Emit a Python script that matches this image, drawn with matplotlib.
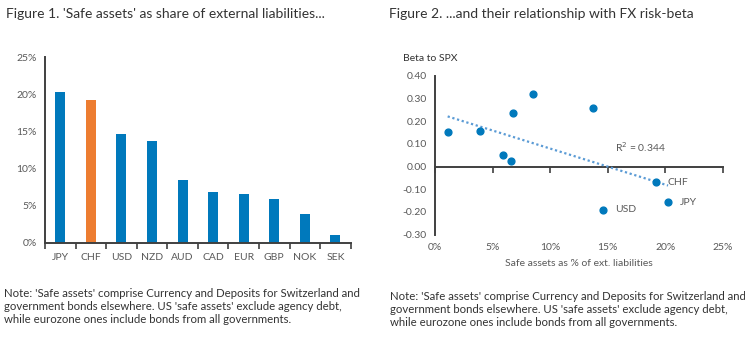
import matplotlib.pyplot as plt
import numpy as np

plt.rcParams['font.family'] = ['Lato', 'DejaVu Sans']

# Figure 1 data: safe assets as % of external liabilities
currencies = ['JPY', 'CHF', 'USD', 'NZD', 'AUD', 'CAD', 'EUR', 'GBP', 'NOK', 'SEK']
safe_share = [20.25, 19.2, 14.6, 13.7, 8.5, 6.8, 6.6, 5.9, 3.9, 1.1]

# Figure 2 data: beta to SPX for the same currencies
beta_spx = [-0.158, -0.069, -0.191, 0.260, 0.320, 0.236, 0.026, 0.050, 0.158, 0.153]
labelled = ['JPY', 'CHF', 'USD']
r2_text = 'R$^2$ = 0.344'

blue = '#0079BC'
orange = '#ED7D31'
trend_blue = '#5B9BD5'
axis_col = '#404040'
tick_col = '#595959'
title_col = '#333333'

fig = plt.figure(figsize=(7.45, 3.46), dpi=100)

# ---- Figure 1: bars
ax1 = fig.add_axes([0.0604, 0.2977, 0.4103, 0.5373])
colors = [orange if c == 'CHF' else blue for c in currencies]
x = np.arange(len(currencies))
ax1.bar(x, safe_share, width=0.33, color=colors)
ax1.set_xlim(-0.5, len(currencies) - 0.5)
ax1.set_ylim(0, 25)
ax1.set_yticks(np.arange(0, 26, 5))
ax1.set_yticklabels([f'{v}%' for v in range(0, 26, 5)])
ax1.set_xticks(x)
ax1.set_xticklabels(currencies)
ax1.set_xticks(np.arange(-0.5, len(currencies), 1), minor=True)
ax1.tick_params(axis='x', which='major', length=0, pad=7, labelsize=7.5, labelcolor=tick_col)
ax1.tick_params(axis='x', which='minor', length=4, width=1.2, color=axis_col, direction='out')
ax1.tick_params(axis='y', length=0, pad=6, labelsize=7.5, labelcolor=tick_col)
for s in ['top', 'right']:
    ax1.spines[s].set_visible(False)
for s in ['left', 'bottom']:
    ax1.spines[s].set_color(axis_col)
    ax1.spines[s].set_linewidth(1.4)

# ---- Figure 2: scatter
ax2 = fig.add_axes([0.5839, 0.3217, 0.3862, 0.4595])
ax2.scatter(safe_share, beta_spx, s=24, color=blue, zorder=3)

# linear trend line
coef = np.polyfit(safe_share, beta_spx, 1)
xs = np.array([min(safe_share), max(safe_share)])
ax2.plot(xs, np.polyval(coef, xs), linestyle=(0, (1, 1.2)), color=trend_blue, linewidth=1.6, zorder=2)
ax2.text(15.6, 0.085, r2_text, fontsize=7.5, color=tick_col, va='center')

for c, xv, yv in zip(currencies, safe_share, beta_spx):
    if c in labelled:
        ax2.annotate(c, (xv, yv), xytext=(8.5, 0), textcoords='offset points',
                     va='center', fontsize=7.5, color=tick_col)

ax2.set_xlim(0, 25)
ax2.set_ylim(-0.3, 0.4)
ax2.set_xticks(np.arange(0, 26, 5))
ax2.set_xticklabels([f'{v}%' for v in range(0, 26, 5)])
ax2.set_yticks(np.arange(-0.3, 0.41, 0.1))
ax2.set_yticklabels([f'{v:.2f}' for v in np.arange(-0.3, 0.41, 0.1)])
ax2.tick_params(axis='x', length=0, pad=6, labelsize=7.5, labelcolor=tick_col)
ax2.tick_params(axis='y', length=0, pad=6, labelsize=7.5, labelcolor=tick_col)
for s in ['top', 'right', 'bottom']:
    ax2.spines[s].set_visible(False)
ax2.spines['left'].set_color(axis_col)
ax2.spines['left'].set_linewidth(1.4)

# x axis line at zero with its own tick marks
zero_ax = ax2.secondary_xaxis(0.3 / 0.7)
zero_ax.set_xticks(np.arange(0, 26, 5))
zero_ax.set_xticklabels([])
zero_ax.tick_params(length=4, width=1.2, color=axis_col, direction='out')
zero_ax.spines['bottom'].set_color(axis_col)
zero_ax.spines['bottom'].set_linewidth(1.4)

ax2.set_xlabel('Safe assets as % of ext. liabilities', fontsize=7.5, color=tick_col, labelpad=5)
ax2.text(-0.111, 1.08, 'Beta to SPX', transform=ax2.transAxes, fontsize=7.5, color=title_col, ha='left', va='bottom')

# ---- titles and notes
fig.text(6 / 745, 1 - 14 / 346, "Figure 1. 'Safe assets' as share of external liabilities...",
         fontsize=10, color=title_col, va='center')
fig.text(389 / 745, 1 - 14 / 346, 'Figure 2. ...and their relationship with FX risk-beta',
         fontsize=10, color=title_col, va='center')

note = ("Note: 'Safe assets' comprise Currency and Deposits for Switzerland and\n"
        "government bonds elsewhere. US 'safe assets' exclude agency debt,\n"
        "while eurozone ones include bonds from all governments.")
fig.text(4 / 745, 1 - 288 / 346, note, fontsize=8.2, color=title_col, va='top', linespacing=1.2)
fig.text(390 / 745, 1 - 291 / 346, note, fontsize=8.2, color=title_col, va='top', linespacing=1.2)

fig.savefig('out.png', dpi=100)
